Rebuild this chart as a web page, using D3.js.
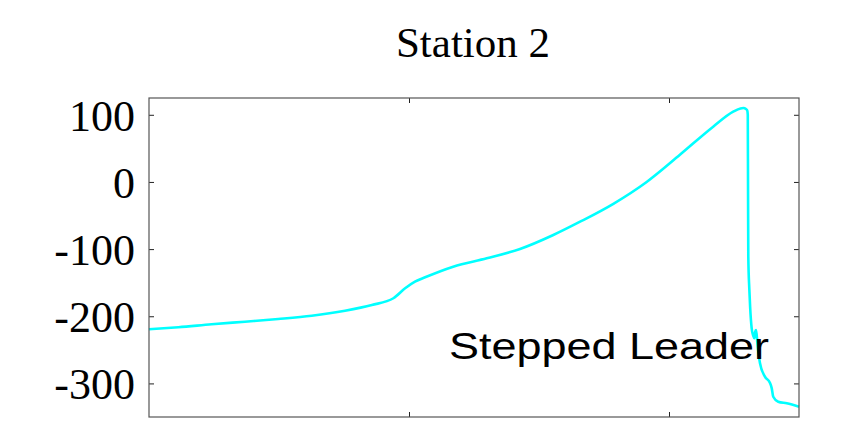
<!DOCTYPE html>
<html>
<head>
<meta charset="utf-8">
<script src="https://cdn.jsdelivr.net/npm/d3@7"></script>
<style>
  html, body { margin: 0; padding: 0; background: #fff; }
  svg { display: block; }
</style>
</head>
<body>
<svg id="chart" width="846" height="447"></svg>
<script>
const title = "Station 2";
const annotation = "Stepped Leader";
const yTicks = [100, 0, -100, -200, -300];
const xTicks = [1, 2];
const timeValues = [0, 0.113, 0.241, 0.369, 0.497, 0.626, 0.754, 0.857, 0.94, 0.985, 1.023, 1.062,
  1.17, 1.299, 1.427, 1.555, 1.658, 1.786, 1.914, 2.042, 2.17, 2.247, 2.275, 2.286, 2.296,
  2.301, 2.303, 2.304, 2.305, 2.309, 2.312, 2.318, 2.324, 2.328, 2.331, 2.335, 2.340, 2.35, 2.369,
  2.388, 2.395, 2.401, 2.42, 2.453, 2.5];
const fieldValues = [-219.4, -216.4, -212.0, -208.1, -204.1, -199.2, -191.7, -183.2, -173.2, -158.4, -148.5, -142.0,
  -126.2, -113.7, -99.8, -79.0, -59.2, -32.5, 0.0, 40.5, 82.3, 104.6, 109.5, 110.1, 108.6,
  106.5, 100.0, -12.0, -111.3, -160.0, -185.8, -218.0, -229.0, -232.8, -224.0, -220.4, -240.3, -270.0, -290.0,
  -299.0, -307.0, -319.8, -327.2, -329.6, -334.6];

const svg = d3.select("#chart");
const mLeft = 149, mRight = 799, mTop = 98, mBottom = 417;

const x = d3.scaleLinear().domain([0, 2.5]).range([mLeft, mRight]);
const y = d3.scaleLinear().domain([-350, 125]).range([mBottom, mTop]);

const data = timeValues.map((t, i) => ({ t, v: fieldValues[i] }));

// data line
svg.append("path")
  .datum(data)
  .attr("fill", "none")
  .attr("stroke", "#00ffff")
  .attr("stroke-width", 2.6)
  .attr("stroke-linejoin", "round")
  .attr("d", d3.line().x(d => x(d.t)).y(d => y(d.v)).curve(d3.curveMonotoneX));

// axes (ticks inside)
const tickLen = 5;
const axisStyle = g => {
  g.select(".domain").remove();
  g.selectAll(".tick line").attr("stroke", "#222").attr("stroke-width", 1);
};

svg.append("g")
  .attr("transform", `translate(${mLeft},0)`)
  .call(d3.axisLeft(y).tickValues(yTicks).tickSize(-tickLen).tickPadding(tickLen + 9).tickFormat(d => String(d)))
  .call(axisStyle)
  .call(g => g.selectAll(".tick text")
    .attr("font-family", "'Liberation Serif', 'Times New Roman', serif")
    .attr("font-size", 44)
    .attr("fill", "#000")
    .attr("dy", "0.35em"));

svg.append("g")
  .attr("transform", `translate(${mRight},0)`)
  .call(d3.axisRight(y).tickValues(yTicks).tickSize(-tickLen).tickFormat(""))
  .call(axisStyle);

svg.append("g")
  .attr("transform", `translate(0,${mBottom})`)
  .call(d3.axisBottom(x).tickValues(xTicks).tickSize(-tickLen).tickFormat(""))
  .call(axisStyle);

svg.append("g")
  .attr("transform", `translate(0,${mTop})`)
  .call(d3.axisTop(x).tickValues(xTicks).tickSize(-tickLen).tickFormat(""))
  .call(axisStyle);

// frame
svg.append("rect")
  .attr("x", mLeft).attr("y", mTop)
  .attr("width", mRight - mLeft).attr("height", mBottom - mTop)
  .attr("fill", "none")
  .attr("stroke", "#555")
  .attr("stroke-width", 1.2);

// title
svg.append("text")
  .attr("x", (mLeft + mRight) / 2 - 1)
  .attr("y", 57)
  .attr("text-anchor", "middle")
  .attr("font-family", "'Liberation Serif', 'Times New Roman', serif")
  .attr("font-size", 43)
  .attr("fill", "#000")
  .text(title);

// annotation
svg.append("text")
  .attr("x", 449)
  .attr("y", 359)
  .attr("font-family", "'Liberation Sans', Arial, sans-serif")
  .attr("font-size", 36)
  .attr("textLength", 320)
  .attr("lengthAdjust", "spacingAndGlyphs")
  .attr("fill", "#000")
  .text(annotation);
</script>
</body>
</html>
